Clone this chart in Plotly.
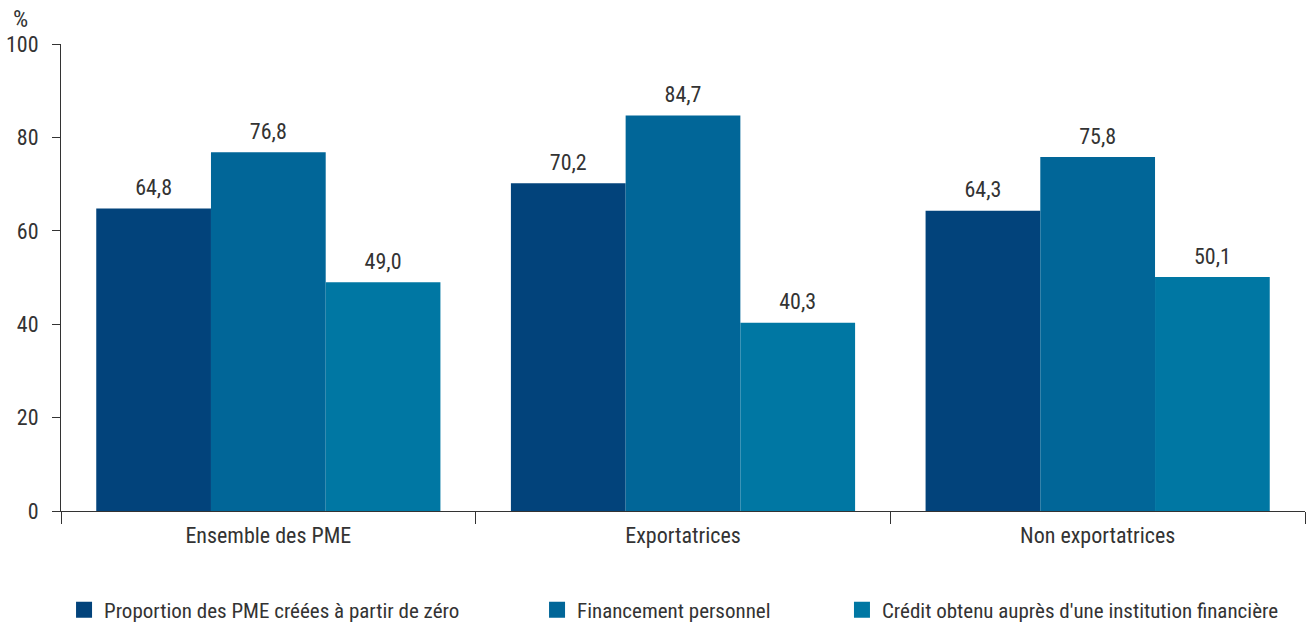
import plotly.graph_objects as go

categories = ["Ensemble des PME", "Exportatrices", "Non exportatrices"]
series_names = [
    "Proportion des PME créées à partir de zéro",
    "Financement personnel",
    "Crédit obtenu auprès d'une institution financière",
]
creees_zero = [64.8, 70.2, 64.3]
financement_perso = [76.8, 84.7, 75.8]
credit_institution = [49.0, 40.3, 50.1]
y_ticks = [0, 20, 40, 60, 80, 100]

colors = ["#02437B", "#016698", "#0077A3"]
FONT = "Roboto Condensed, Roboto, sans-serif"
TXT = "#333333"

fig = go.Figure()
values = [creees_zero, financement_perso, credit_institution]
legend_ids = ["legend", "legend2", "legend3"]
for i, (name, vals) in enumerate(zip(series_names, values)):
    fig.add_trace(go.Bar(
        x=categories, y=vals, name=name,
        marker=dict(color=colors[i], line=dict(width=0)),
        offsetgroup=str(i), showlegend=False, hoverinfo="skip",
    ))
    fig.add_trace(go.Scatter(
        x=categories, y=vals, mode="markers+text",
        text=[f"{v:.1f}".replace(".", ",") for v in vals],
        textposition="top center",
        textfont=dict(family=FONT, size=22, color=TXT),
        marker=dict(size=11, color="rgba(0,0,0,0)"),
        offsetgroup=str(i), showlegend=False, cliponaxis=False, hoverinfo="skip",
    ))
    fig.add_trace(go.Scatter(
        x=[None], y=[None], mode="markers", name=name,
        marker=dict(symbol="square", size=16, color=colors[i]),
        legend=legend_ids[i], showlegend=True,
    ))

fig.update_layout(
    width=1307, height=624,
    margin=dict(l=61, r=2, t=44, b=113, autoexpand=False),
    paper_bgcolor="white", plot_bgcolor="white",
    separators=", ",
    barmode="group", bargap=0.17, bargroupgap=0,
    scattermode="group", scattergap=0.17,
    font=dict(family=FONT, size=21, color=TXT),
    xaxis=dict(
        showline=True, linecolor="#333333", linewidth=1,
        ticks="outside", tickson="boundaries", ticklen=12, tickcolor="#333333",
        ticklabelstandoff=5,
        tickfont=dict(family=FONT, size=22, color=TXT),
        showgrid=False, zeroline=False,
    ),
    yaxis=dict(
        range=[0, 100], tickvals=y_ticks,
        showline=True, linecolor="#333333", linewidth=1,
        ticks="outside", ticklen=8, tickcolor="#333333", ticklabelstandoff=9,
        tickfont=dict(family=FONT, size=22, color=TXT),
        showgrid=False, zeroline=False,
    ),
    annotations=[dict(
        text="%", xref="paper", yref="paper", x=-0.0326, y=1.0535,
        xanchor="center", yanchor="middle", showarrow=False,
        font=dict(family=FONT, size=24, color=TXT),
    )],
)
leg_common = dict(orientation="h", yref="container", y=0.0224, yanchor="middle",
                  xanchor="left", xref="container",
                  font=dict(family=FONT, size=21, color=TXT),
                  bgcolor="rgba(0,0,0,0)")
fig.update_layout(
    legend=dict(x=0.049, **leg_common),
    legend2=dict(x=0.4109, **leg_common),
    legend3=dict(x=0.6442, **leg_common),
)
fig.write_html("out.html", config={"displayModeBar": False},
               post_script="document.body.style.margin='0';document.body.style.overflow='hidden';")
